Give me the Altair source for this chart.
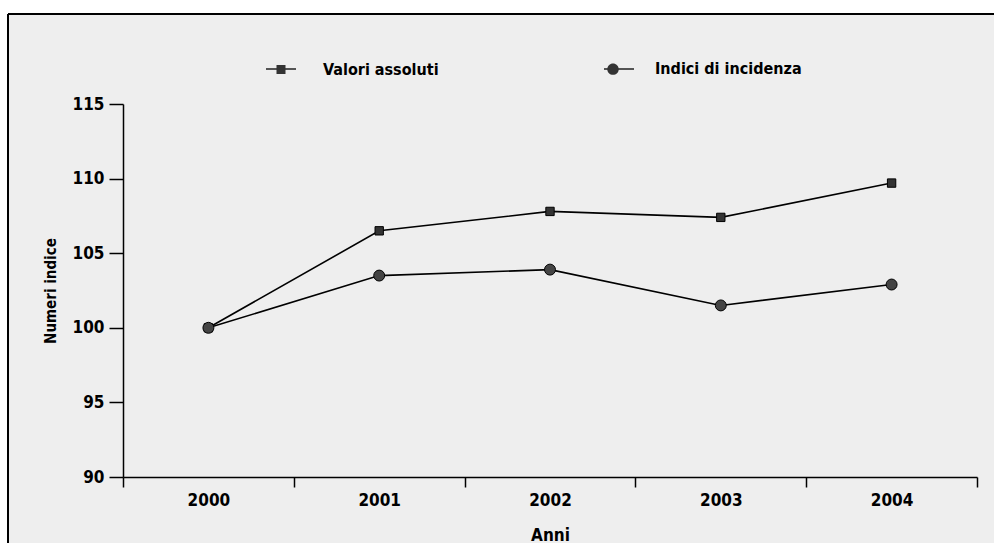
import altair as alt
import pandas as pd

years = ["2000", "2001", "2002", "2003", "2004"]
valori_assoluti = [100.0, 106.5, 107.8, 107.4, 109.7]
indici_incidenza = [100.0, 103.5, 103.9, 101.5, 102.9]
series_names = ["Valori assoluti", "Indici di incidenza"]
y_ticks = [90, 95, 100, 105, 110, 115]

rows = []
for y, v in zip(years, valori_assoluti):
    rows.append({"Anno": y, "Serie": series_names[0], "Valore": v})
for y, v in zip(years, indici_incidenza):
    rows.append({"Anno": y, "Serie": series_names[1], "Valore": v})
df = pd.DataFrame(rows)

FONT = "Liberation Sans Narrow, DejaVu Sans Condensed, Roboto Condensed, Liberation Sans, sans-serif"
W, H = 854, 373

x_enc = alt.X(
    "Anno:N",
    bandPosition=0.5,
    sort=years,
    scale=alt.Scale(type="band", paddingInner=0, paddingOuter=0),
    axis=alt.Axis(
        title="Anni",
        tickBand="extent",
        labelAngle=0,
        labelFont=FONT,
        labelFontSize=17,
        labelFontWeight="bold",
        labelColor="black",
        labelPadding=5,
        tickSize=10,
        tickWidth=1.5,
        tickColor="black",
        domainColor="black",
        domainWidth=1.5,
        titleFont=FONT,
        titleFontSize=17,
        titleFontWeight="bold",
        titleColor="black",
        titlePadding=19,
        zindex=2,
    ),
)
y_enc = alt.Y(
    "Valore:Q",
    scale=alt.Scale(domain=[90, 115], zero=False, nice=False),
    axis=alt.Axis(
        title="Numeri indice",
        values=y_ticks,
        grid=False,
        labelFont=FONT,
        labelFontSize=17,
        labelFontWeight="bold",
        labelColor="black",
        labelPadding=5,
        tickSize=14,
        tickWidth=1.5,
        tickColor="black",
        domainColor="black",
        domainWidth=1.5,
        titleFont=FONT,
        titleFontSize=15,
        titleFontWeight="bold",
        titleColor="black",
        titlePadding=14,
        zindex=2,
    ),
)

legend_common = dict(
    title=None,
    orient="none",
    legendX=142,
    legendY=-51,
    direction="horizontal",
    padding=0,
    symbolSize=900,
    symbolOpacity=1,
    labelFont=FONT,
    labelFontSize=16,
    labelFontWeight="bold",
    labelColor="black",
    labelOffset=26,
)

frame_fill = alt.Chart(alt.Data(values=[{}])).mark_rect(
    fill="#eeeeee", strokeWidth=0
).encode(
    x=alt.value(-115), x2=alt.value(W + 17),
    y=alt.value(-90), y2=alt.value(H + 66),
)
frame_top = alt.Chart(alt.Data(values=[{}])).mark_rule(
    color="black", strokeWidth=2
).encode(x=alt.value(-115), x2=alt.value(W + 17), y=alt.value(-90))
frame_left = alt.Chart(alt.Data(values=[{}])).mark_rule(
    color="black", strokeWidth=2
).encode(x=alt.value(-115), y=alt.value(-90), y2=alt.value(H + 66))

base = alt.Chart(df)

lines = base.mark_line(strokeWidth=1.6).encode(
    x=x_enc, y=y_enc,
    color=alt.Color(
        "Serie:N",
        sort=series_names,
        scale=alt.Scale(domain=series_names, range=["black", "black"]),
        legend=alt.Legend(
            symbolType="stroke",
            symbolStrokeWidth=1.3,
            labelExpr="''",
            columnPadding=278,
            zindex=2,
            **legend_common,
        ),
    ),
)

pts_valori = base.transform_filter(
    alt.datum.Serie == series_names[0]
).mark_point(
    shape="square", filled=True, size=70, fill="#333333", stroke="black", strokeWidth=1, opacity=1
).encode(x=x_enc, y=y_enc)

pts_indici = base.transform_filter(
    alt.datum.Serie == series_names[1]
).mark_point(
    shape="circle", filled=True, size=120, fill="#444444", stroke="black", strokeWidth=1, opacity=1
).encode(x=x_enc, y=y_enc)

legend_shapes = [
    "M-0.3,-0.3H0.3V0.3H-0.3Z",
    "M-0.38,0A0.38,0.38,0,1,1,0.38,0A0.38,0.38,0,1,1,-0.38,0Z",
]

legend_layer = base.mark_point(
    filled=True, opacity=0, size=900, color="#333333",
).encode(
    x=x_enc, y=y_enc,
    shape=alt.Shape(
        "Serie:N",
        sort=series_names,
        scale=alt.Scale(domain=series_names, range=legend_shapes),
        legend=alt.Legend(
            symbolFillColor="#333333",
            columnPadding=158,
            zindex=3,
            **legend_common,
        ),
    ),
)

chart = alt.layer(
    frame_fill, frame_top, frame_left, lines, pts_valori, pts_indici, legend_layer
).resolve_legend(color="independent", shape="independent").properties(
    width=W, height=H,
    autosize=alt.AutoSizeParams(type="none"),
    padding={"left": 123, "top": 104, "right": 18, "bottom": 67},
    background="white",
).configure_view(stroke=None)

chart.save("out.html", embed_options={"renderer": "svg", "actions": False})
